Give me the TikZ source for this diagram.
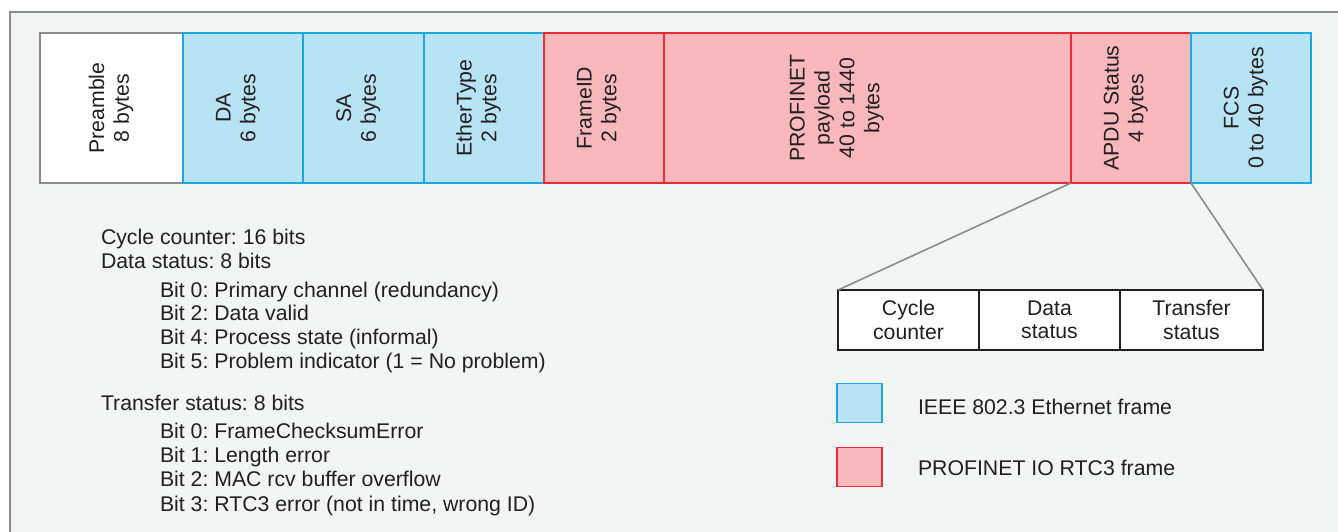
\documentclass[tikz,border=0pt]{standalone}
\usepackage{fontspec}
\setmainfont{Liberation Sans}
\frenchspacing

\definecolor{txt}{HTML}{231F20}
\definecolor{panelbg}{HTML}{F3F5F5}
\definecolor{paneledge}{HTML}{8A8A8A}
\definecolor{ethfill}{HTML}{B7E3F5}
\definecolor{ethline}{HTML}{1DA7E1}
\definecolor{rtcfill}{HTML}{F8B8BC}
\definecolor{rtcline}{HTML}{EE2B36}

% rotated cell text, optional extra depth pushes it left
\newcommand{\vlab}[2][0.2cm]{\rotatebox{90}{\raisebox{0pt}[\height][\dimexpr\depth+#1\relax]{\begin{tabular}{@{}c@{}}#2\end{tabular}}}}

\begin{document}
\begin{tikzpicture}[x=0.02cm, y=-0.02cm,
		every node/.style={text=txt, font=\fontsize{12.1}{14.2}\selectfont, outer sep=0pt},
		cell/.style={minimum height=150*0.02cm, inner sep=0pt, line width=1.1pt, align=center},
		pre/.style={cell, draw=paneledge, fill=white},
		eth/.style={cell, draw=ethline, fill=ethfill},
		rtc/.style={cell, draw=rtcline, fill=rtcfill},
		sub/.style={draw=txt, fill=white, line width=1.1pt, minimum height=60*0.02cm, inner sep=0pt, align=center, font=\fontsize{12.1}{13.4}\selectfont},
		key/.style={line width=1.1pt, minimum width=45*0.02cm, minimum height=39*0.02cm, inner sep=0pt},
		line/.style={anchor=base west, inner sep=0pt},
		link/.style={draw=paneledge, line width=0.9pt}]
	\clip (0,0) rectangle (1338,531);
	\fill[white] (0,0) rectangle (1338,531);
	\draw[fill=panelbg, draw=paneledge, line width=1.5pt] (10,12) rectangle (1400,600);

	% the frame
	\node[pre, minimum width=143*0.02cm] (pream) at (111.5,108) {\vlab[0cm]{Preamble\\8 bytes}};
	\node[eth, minimum width=120*0.02cm] (da) at (243,108) {\vlab{DA\\6 bytes}};
	\node[eth, minimum width=121*0.02cm] (sa) at (363.5,108) {\vlab{SA\\6 bytes}};
	\node[eth, minimum width=120*0.02cm] (etype) at (484,108) {\vlab{EtherType\\2 bytes}};
	\node[rtc, minimum width=120*0.02cm] (fid) at (604,108) {\vlab{FrameID\\2 bytes}};
	\node[rtc, minimum width=407*0.02cm] (pay) at (867.5,108) {};
	\node[inner sep=0pt] (paytxt) at (842,108) {\vlab{PROFINET\\payload\\40 to 1440\\bytes}};
	\node[rtc, minimum width=120*0.02cm] (apdu) at (1131,108) {\vlab{APDU Status\\4 bytes}};
	\node[eth, minimum width=120*0.02cm] (fcs) at (1251,108) {\vlab{FCS\\0 to 40 bytes}};

	% APDU status in detail
	\node[sub, minimum width=141*0.02cm] (cyc) at (908.5,320) {Cycle\\counter};
	\node[sub, minimum width=141*0.02cm] (dst) at (1049.5,320) {Data\\status};
	\node[sub, minimum width=143*0.02cm] (tst) at (1191.5,320) {Transfer\\status};
	\draw[link] (apdu.south west) -- (cyc.north west);
	\draw[link] (apdu.south east) -- (tst.north east);

	% bit list
	\foreach \y/\t [count=\i] in {244/Cycle counter: 16 bits, 268/Data status: 8 bits, 410/Transfer status: 8 bits}
		\node[line] (head\i) at (101,\y) {\t};
	\foreach \y/\t [count=\i] in {297/Bit 0: Primary channel (redundancy), 320/Bit 2: Data valid, 344/Bit 4: Process state (informal), 368/Bit 5: Problem indicator (1 = No problem), 438/Bit 0: FrameChecksumError, 462/Bit 1: Length error, 486/Bit 2: MAC rcv buffer overflow, 511/{Bit 3: RTC3 error (not in time, wrong ID)}}
		\node[line] (bit\i) at (160,\y) {\t};

	% legend
	\node[key, draw=ethline, fill=ethfill] (keyeth) at (859.5,403) {};
	\node[line] (keyethtxt) at (918,414) {IEEE 802.3 Ethernet frame};
	\node[key, draw=rtcline, fill=rtcfill] (keyrtc) at (859.5,467) {};
	\node[line] (keyrtctxt) at (918,475) {PROFINET IO RTC3 frame};
\end{tikzpicture}
\end{document}
